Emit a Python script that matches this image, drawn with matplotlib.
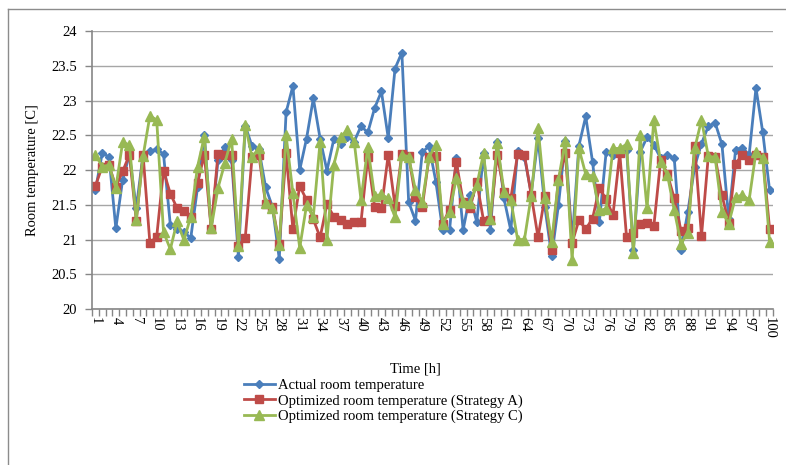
import matplotlib
matplotlib.use('Agg')
import matplotlib.pyplot as plt
from matplotlib.lines import Line2D

# hourly room temperatures, hours 1..100
hours = list(range(1, 101))

actual = [
    21.71, 22.24, 22.19, 21.16, 21.86, 22.22, 21.45, 22.22, 22.27, 22.30,
    22.23, 21.21, 21.15, 21.11, 21.02, 21.75, 22.50, 21.15, 22.14, 22.33,
    22.15, 20.75, 22.64, 22.34, 22.30, 21.75, 21.47, 20.72, 22.83, 23.21,
    22.00, 22.45, 23.03, 22.45, 21.99, 22.44, 22.38, 22.48, 22.41, 22.63,
    22.54, 22.89, 23.13, 22.46, 23.46, 23.69, 21.54, 21.27, 22.26, 22.34,
    21.83, 21.13, 21.13, 22.17, 21.14, 21.64, 21.25, 22.24, 21.14, 22.40,
    21.59, 21.13, 22.28, 22.19, 21.66, 22.46, 21.47, 20.76, 21.50, 22.42,
    20.97, 22.35, 22.77, 22.12, 21.25, 22.26, 22.22, 22.26, 22.29, 20.85,
    22.26, 22.47, 22.36, 22.17, 22.22, 22.17, 20.85, 21.40, 22.05, 22.38,
    22.63, 22.68, 22.37, 21.30, 22.29, 22.32, 22.22, 23.18, 22.54, 21.71,
]

strategy_a = [
    21.77, 22.05, 22.07, 21.76, 21.98, 22.22, 21.27, 22.22, 20.95, 21.04,
    21.99, 21.66, 21.45, 21.41, 21.33, 21.82, 22.22, 21.15, 22.23, 22.22,
    22.22, 20.91, 21.02, 22.18, 22.22, 21.51, 21.47, 20.94, 22.24, 21.15,
    21.77, 21.57, 21.29, 21.03, 21.51, 21.33, 21.28, 21.22, 21.25, 21.25,
    22.19, 21.47, 21.45, 22.22, 21.48, 22.23, 22.20, 21.61, 21.47, 22.19,
    22.20, 21.23, 21.43, 22.12, 21.54, 21.45, 21.83, 21.27, 21.28, 22.22,
    21.69, 21.59, 22.23, 22.22, 21.64, 21.03, 21.62, 20.85, 21.87, 22.24,
    20.95, 21.28, 21.15, 21.30, 21.74, 21.58, 21.35, 22.24, 21.03, 21.09,
    21.22, 21.24, 21.19, 22.14, 21.94, 21.59, 21.12, 21.16, 22.34, 21.05,
    22.20, 22.19, 21.64, 21.24, 22.09, 22.22, 22.15, 22.22, 22.19, 21.15,
]

strategy_c = [
    22.22, 22.05, 22.07, 21.74, 22.40, 22.36, 21.28, 22.20, 22.78, 22.72,
    21.11, 20.86, 21.26, 20.99, 21.33, 22.05, 22.48, 21.16, 21.74, 22.10,
    22.45, 20.90, 22.65, 22.18, 22.31, 21.52, 21.45, 20.92, 22.50, 21.67,
    20.88, 21.49, 21.33, 22.41, 21.00, 22.07, 22.47, 22.58, 22.41, 21.57,
    22.33, 21.62, 21.65, 21.59, 21.32, 22.22, 22.19, 21.71, 21.54, 22.19,
    22.36, 21.23, 21.40, 21.88, 21.54, 21.53, 21.78, 22.24, 21.30, 22.39,
    21.69, 21.57, 21.00, 21.00, 21.63, 22.61, 21.59, 20.97, 21.86, 22.42,
    20.70, 22.31, 21.94, 21.91, 21.42, 21.44, 22.31, 22.31, 22.37, 20.80,
    22.50, 21.45, 22.72, 22.12, 21.93, 21.42, 20.94, 21.10, 22.31, 22.72,
    22.20, 22.18, 21.40, 21.23, 21.61, 21.64, 21.57, 22.26, 22.17, 20.97,
]

y_ticks = [20, 20.5, 21, 21.5, 22, 22.5, 23, 23.5, 24]
y_tick_labels = ['20', '20.5', '21', '21.5', '22', '22.5', '23', '23.5', '24']
x_tick_hours = hours[::3]

plt.rcParams['font.family'] = ['Liberation Serif', 'DejaVu Serif']
fs = 10.5
grey = '#868686'

fig = plt.figure(figsize=(7.86, 4.65), dpi=100)
ax = fig.add_axes([92 / 786, 1 - 309 / 465, (773 - 92) / 786, (309 - 31) / 465])

ax.plot(hours, actual, color='#4A7EBB', lw=2, marker='D', ms=4,
        label='Actual room temperature')
ax.plot(hours, strategy_a, color='#BE4B48', lw=2, marker='s', ms=6,
        label='Optimized room temperature (Strategy A)')
ax.plot(hours, strategy_c, color='#98B954', lw=2, marker='^', ms=6.5,
        label='Optimized room temperature (Strategy C)')

ax.set_xlim(0.5, 100.5)
ax.set_ylim(20, 24)
ax.set_yticks(y_ticks)
ax.set_yticklabels(y_tick_labels, fontsize=fs)
ax.grid(axis='y', color='#a6a6a6', lw=1)
ax.set_axisbelow(True)

ax.set_xticks(x_tick_hours)
ax.set_xticklabels([str(h) for h in x_tick_hours], rotation=270, fontsize=fs,
                   ha='center', va='top')
ax.set_xticks([h - 0.5 for h in hours] + [100.5], minor=True)
ax.tick_params(axis='x', which='major', length=0, pad=6)
ax.tick_params(axis='x', which='minor', length=5, color=grey, width=1)
ax.tick_params(axis='y', length=5, color=grey, width=1, pad=6)

for side in ('top', 'right'):
    ax.spines[side].set_visible(False)
for side in ('left', 'bottom'):
    ax.spines[side].set_color(grey)
    ax.spines[side].set_linewidth(1.2)

fig.text(33 / 786, 1 - 170 / 465, 'Room temperature [C]', rotation=90,
         ha='center', va='center', fontsize=fs)
fig.text(415 / 786, 1 - 369 / 465, 'Time [h]', ha='center', va='center', fontsize=fs)

fig.legend(loc='center left', bbox_to_anchor=(244 / 786, 1 - 401 / 465),
           frameon=False, fontsize=fs, handlelength=2.1, handletextpad=0.2,
           labelspacing=0.12, borderpad=0, borderaxespad=0)

# outer chart frame (top and left edges)
fig.add_artist(Line2D([8 / 786, 1], [1 - 9 / 465, 1 - 9 / 465], color='#8c8c8c', lw=1))
fig.add_artist(Line2D([8 / 786, 8 / 786], [0, 1 - 9 / 465], color='#8c8c8c', lw=1))

fig.savefig('out.png', dpi=100)
